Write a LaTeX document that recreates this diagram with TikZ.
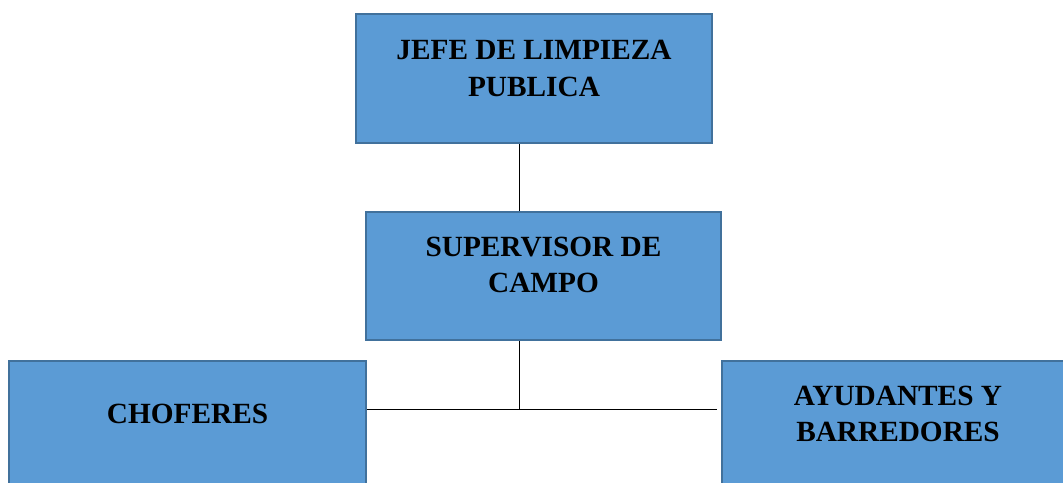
\documentclass[tikz,border=0pt]{standalone}
\usepackage{fontspec}
\setmainfont{Liberation Serif}
\definecolor{boxfill}{HTML}{5B9BD5}
\definecolor{boxline}{HTML}{41719C}
\begin{document}
\begin{tikzpicture}[x=1pt,y=-1pt,
  orgbox/.style={draw=boxline, fill=boxfill, line width=2.2pt, rectangle, inner sep=0pt},
  boxtext/.style={font=\fontsize{29.3}{36.5}\selectfont\bfseries, align=center, text=black},
  conn/.style={draw=black, line width=1pt}]
\useasboundingbox (0,0) rectangle (1063,482);
\clip (0,0) rectangle (1063,482);
\node[orgbox, minimum width=356pt, minimum height=129pt,
  label={[boxtext, yshift=10pt]center:JEFE DE LIMPIEZA\\PUBLICA}] (top) at (534,78.5) {};
\node[orgbox, minimum width=355pt, minimum height=128pt,
  label={[boxtext, yshift=11pt]center:SUPERVISOR DE\\CAMPO}] (mid) at (543.5,276) {};
\node[orgbox, minimum width=357pt, minimum height=129pt,
  label={[boxtext, yshift=12pt]center:CHOFERES}] (left) at (187.5,425.5) {};
\node[orgbox, minimum width=352pt, minimum height=129pt,
  label={[boxtext, yshift=11.5pt]center:AYUDANTES Y\\BARREDORES}] (right) at (898,425.5) {};
\coordinate (j) at (519,409);
\coordinate (rend) at (717,409);
\draw[conn] (top.south -| j) -- (mid.north -| j);
\draw[conn] (mid.south -| j) -- (j);
\draw[conn] (left.east |- j) -- (rend);
\end{tikzpicture}
\end{document}
